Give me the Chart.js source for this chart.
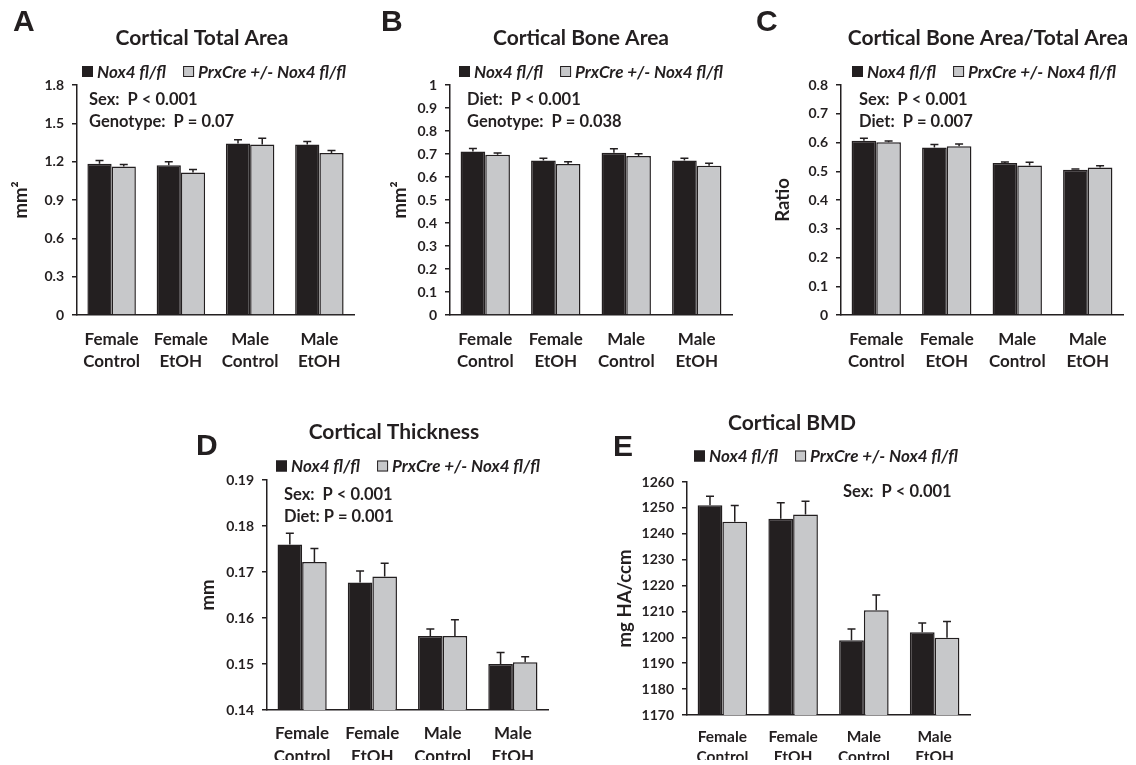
<!DOCTYPE html>
<html>
<head>
<meta charset="utf-8">
<script src="https://cdn.jsdelivr.net/npm/chart.js@4.4.1/dist/chart.umd.min.js"></script>
<style>
  body { margin: 0; background: #fff; }
  #fig { position: relative; width: 1136px; height: 765px; overflow: hidden; }
  #fig canvas { position: absolute; }
</style>
</head>
<body>
<div id="fig"></div>
<script>
const categories = [['Female', 'Control'], ['Female', 'EtOH'], ['Male', 'Control'], ['Male', 'EtOH']];
const seriesNames = ['Nox4 fl/fl', 'PrxCre +/- Nox4 fl/fl'];

// A - cortical total area (mm2)
const totalAreaWT = [1.184, 1.171, 1.342, 1.335];
const totalAreaKO = [1.163, 1.116, 1.335, 1.267];
const totalAreaWTErr = [0.026, 0.029, 0.029, 0.023];
const totalAreaKOErr = [0.015, 0.023, 0.049, 0.021];
const totalAreaTicks = [0, 0.3, 0.6, 0.9, 1.2, 1.5, 1.8];

// B - cortical bone area (mm2)
const boneAreaWT = [0.711, 0.672, 0.705, 0.672];
const boneAreaKO = [0.697, 0.656, 0.691, 0.649];
const boneAreaWTErr = [0.013, 0.010, 0.018, 0.010];
const boneAreaKOErr = [0.007, 0.010, 0.010, 0.011];
const boneAreaTicks = [0, 0.1, 0.2, 0.3, 0.4, 0.5, 0.6, 0.7, 0.8, 0.9, 1];

// C - bone area / total area
const ratioWT = [0.606, 0.583, 0.529, 0.505];
const ratioKO = [0.601, 0.587, 0.520, 0.513];
const ratioWTErr = [0.009, 0.010, 0.003, 0.003];
const ratioKOErr = [0.004, 0.008, 0.011, 0.006];
const ratioTicks = [0, 0.1, 0.2, 0.3, 0.4, 0.5, 0.6, 0.7, 0.8];

// D - cortical thickness (mm)
const thicknessWT = [0.1760, 0.1677, 0.1561, 0.1500];
const thicknessKO = [0.1722, 0.1690, 0.1561, 0.1504];
const thicknessWTErr = [0.0024, 0.0025, 0.0015, 0.0025];
const thicknessKOErr = [0.0029, 0.0029, 0.0035, 0.0012];
const thicknessTicks = [0.14, 0.15, 0.16, 0.17, 0.18, 0.19];

// E - cortical BMD (mg HA/ccm)
const bmdWT = [1251.0, 1245.8, 1198.9, 1202.0];
const bmdKO = [1244.6, 1247.4, 1210.5, 1199.8];
const bmdWTErr = [3.5, 6.2, 4.3, 3.5];
const bmdKOErr = [6.3, 5.2, 5.9, 6.3];
const bmdTicks = [1170, 1180, 1190, 1200, 1210, 1220, 1230, 1240, 1250, 1260];

const INK = '#231f20';
const GREY = '#c7c8ca';
const FONT = 'Lato, "Open Sans", sans-serif';

// draws error bars, panel letter, title, legend and stats notes
const panelDecor = {
    id: 'panelDecor',
    afterDatasetsDraw(chart, args, opts) {
        const ctx = chart.ctx;
        const y = chart.scales.y;
        ctx.save();
        ctx.strokeStyle = INK;
        ctx.lineWidth = 1.5;
        chart.data.datasets.forEach((ds, d) => {
            chart.getDatasetMeta(d).data.forEach((bar, i) => {
                const top = y.getPixelForValue(ds.data[i] + opts.errors[d][i]);
                ctx.beginPath();
                ctx.moveTo(bar.x, bar.y);
                ctx.lineTo(bar.x, top);
                ctx.moveTo(bar.x - 4, top);
                ctx.lineTo(bar.x + 4, top);
                ctx.stroke();
            });
        });
        ctx.restore();
    },
    afterDraw(chart, args, opts) {
        const ctx = chart.ctx;
        const ox = opts.origin[0], oy = opts.origin[1];
        ctx.save();
        ctx.fillStyle = INK;
        ctx.textBaseline = 'middle';

        ctx.font = 'bold 30px "Liberation Sans", Arial, sans-serif';
        ctx.textAlign = 'left';
        ctx.fillText(opts.letter, opts.letterAt[0] - ox, opts.letterAt[1] - oy);

        ctx.font = 'bold 21px ' + FONT;
        ctx.textAlign = 'center';
        ctx.fillText(opts.title, opts.titleAt[0] - ox, opts.titleAt[1] - oy);

        // legend
        ctx.font = 'italic bold 17px ' + FONT;
        ctx.textAlign = 'left';
        let lx = opts.legendAt[0] - ox;
        const ly = opts.legendAt[1] - oy;
        chart.data.datasets.forEach((ds, d) => {
            ctx.fillStyle = ds.backgroundColor;
            ctx.fillRect(lx, ly - 5.5, 11, 11);
            ctx.strokeStyle = INK;
            ctx.lineWidth = 1;
            ctx.strokeRect(lx + 0.5, ly - 5, 10, 10);
            ctx.fillStyle = INK;
            ctx.fillText(ds.label, lx + 15, ly + 1);
            lx += 15 + ctx.measureText(ds.label).width + 17;
        });

        ctx.font = 'bold 16.5px ' + FONT;
        opts.notes.forEach((n, k) => {
            ctx.fillText(n, opts.notesAt[0] - ox, opts.notesAt[1] - oy + k * 22);
        });
        ctx.restore();
    }
};

const fig = document.getElementById('fig');

function makePanel(p) {
    const canvas = document.createElement('canvas');
    canvas.width = p.box[2];
    canvas.height = p.box[3];
    canvas.style.left = p.box[0] + 'px';
    canvas.style.top = p.box[1] + 'px';
    fig.appendChild(canvas);

    const tickVals = p.ticks;
    return new Chart(canvas.getContext('2d'), {
        type: 'bar',
        data: {
            labels: categories,
            datasets: [
                { label: seriesNames[0], data: p.wt, backgroundColor: INK, borderColor: INK, borderWidth: 1.5 },
                { label: seriesNames[1], data: p.ko, backgroundColor: GREY, borderColor: INK, borderWidth: 1.5 }
            ]
        },
        options: {
            responsive: false,
            animation: false,
            devicePixelRatio: 1,
            layout: { padding: p.pad },
            datasets: { bar: { categoryPercentage: 0.7, barPercentage: 1 } },
            scales: {
                x: {
                    grid: { display: false, drawTicks: false },
                    border: { display: true, color: INK, width: 1.5 },
                    ticks: { color: INK, padding: p.xPad, font: { family: FONT, weight: 'bold', size: p.xFont, lineHeight: p.xLine } },
                    afterFit: s => { s.height = p.xHeight; }
                },
                y: {
                    min: tickVals[0],
                    max: tickVals[tickVals.length - 1],
                    afterBuildTicks: s => { s.ticks = tickVals.map(v => ({ value: v })); },
                    grid: { drawOnChartArea: false, drawTicks: true, tickLength: 5, color: INK, lineWidth: 1.5 },
                    border: { display: true, color: INK, width: 1.5 },
                    ticks: { color: INK, padding: 8, font: { family: FONT, weight: 'bold', size: p.yFont },
                             callback: v => String(+v.toFixed(3)) },
                    title: { display: true, text: p.yTitle, color: INK, padding: { top: p.yTitlePad, bottom: 0 },
                             font: { family: FONT, weight: 'bold', size: 18.5 } },
                    afterFit: s => { s.width = p.yWidth; }
                }
            },
            plugins: {
                legend: { display: false },
                tooltip: { enabled: false },
                panelDecor: {
                    origin: [p.box[0], p.box[1]],
                    errors: [p.wtErr, p.koErr],
                    letter: p.letter, letterAt: p.letterAt,
                    title: p.title, titleAt: p.titleAt,
                    legendAt: p.legendAt,
                    notes: p.notes, notesAt: p.notesAt
                }
            }
        },
        plugins: [panelDecor]
    });
}

makePanel({
    box: [0, 0, 370, 380], pad: { left: 0, top: 85, right: 16, bottom: 5 },
    yWidth: 77, xHeight: 60, xPad: 14, xFont: 17, xLine: '22px', yFont: 14, yTitlePad: 10,
    wt: totalAreaWT, ko: totalAreaKO, wtErr: totalAreaWTErr, koErr: totalAreaKOErr, ticks: totalAreaTicks,
    yTitle: 'mm²', letter: 'A', letterAt: [13, 23], title: 'Cortical Total Area', titleAt: [202, 38],
    legendAt: [82, 71.5], notes: ['Sex:  P < 0.001', 'Genotype:  P = 0.07'], notesAt: [89, 100]
});

makePanel({
    box: [380, 0, 370, 380], pad: { left: 0, top: 85, right: 18, bottom: 5 },
    yWidth: 70, xHeight: 60, xPad: 14, xFont: 17, xLine: '22px', yFont: 14, yTitlePad: 9,
    wt: boneAreaWT, ko: boneAreaKO, wtErr: boneAreaWTErr, koErr: boneAreaKOErr, ticks: boneAreaTicks,
    yTitle: 'mm²', letter: 'B', letterAt: [381, 23], title: 'Cortical Bone Area', titleAt: [581, 38],
    legendAt: [459, 71.5], notes: ['Diet:  P < 0.001', 'Genotype:  P = 0.038'], notesAt: [467, 100]
});

makePanel({
    box: [755, 0, 381, 380], pad: { left: 0, top: 85, right: 13, bottom: 5 },
    yWidth: 86, xHeight: 60, xPad: 14, xFont: 17, xLine: '22px', yFont: 14, yTitlePad: 17,
    wt: ratioWT, ko: ratioKO, wtErr: ratioWTErr, koErr: ratioKOErr, ticks: ratioTicks,
    yTitle: 'Ratio', letter: 'C', letterAt: [756, 23], title: 'Cortical Bone Area/Total Area', titleAt: [988, 38],
    legendAt: [852, 71.5], notes: ['Sex:  P < 0.001', 'Diet:  P = 0.007'], notesAt: [859, 100]
});

makePanel({
    box: [190, 395, 380, 370], pad: { left: 0, top: 85, right: 22, bottom: 5 },
    yWidth: 77, xHeight: 50, xPad: 12, xFont: 17, xLine: '23px', yFont: 14, yTitlePad: 7,
    wt: thicknessWT, ko: thicknessKO, wtErr: thicknessWTErr, koErr: thicknessKOErr, ticks: thicknessTicks,
    yTitle: 'mm', letter: 'D', letterAt: [196, 447], title: 'Cortical Thickness', titleAt: [394, 432],
    legendAt: [276, 466], notes: ['Sex:  P < 0.001', 'Diet: P = 0.001'], notesAt: [284, 495]
});

makePanel({
    box: [590, 395, 400, 370], pad: { left: 0, top: 87, right: 20, bottom: 5 },
    yWidth: 97, xHeight: 45, xPad: 12, xFont: 15.5, xLine: '20px', yFont: 14, yTitlePad: 24,
    wt: bmdWT, ko: bmdKO, wtErr: bmdWTErr, koErr: bmdKOErr, ticks: bmdTicks,
    yTitle: 'mg HA/ccm', letter: 'E', letterAt: [613, 448], title: 'Cortical BMD', titleAt: [792, 423],
    legendAt: [694, 456], notes: ['Sex:  P < 0.001'], notesAt: [843, 492]
});
</script>
</body>
</html>
